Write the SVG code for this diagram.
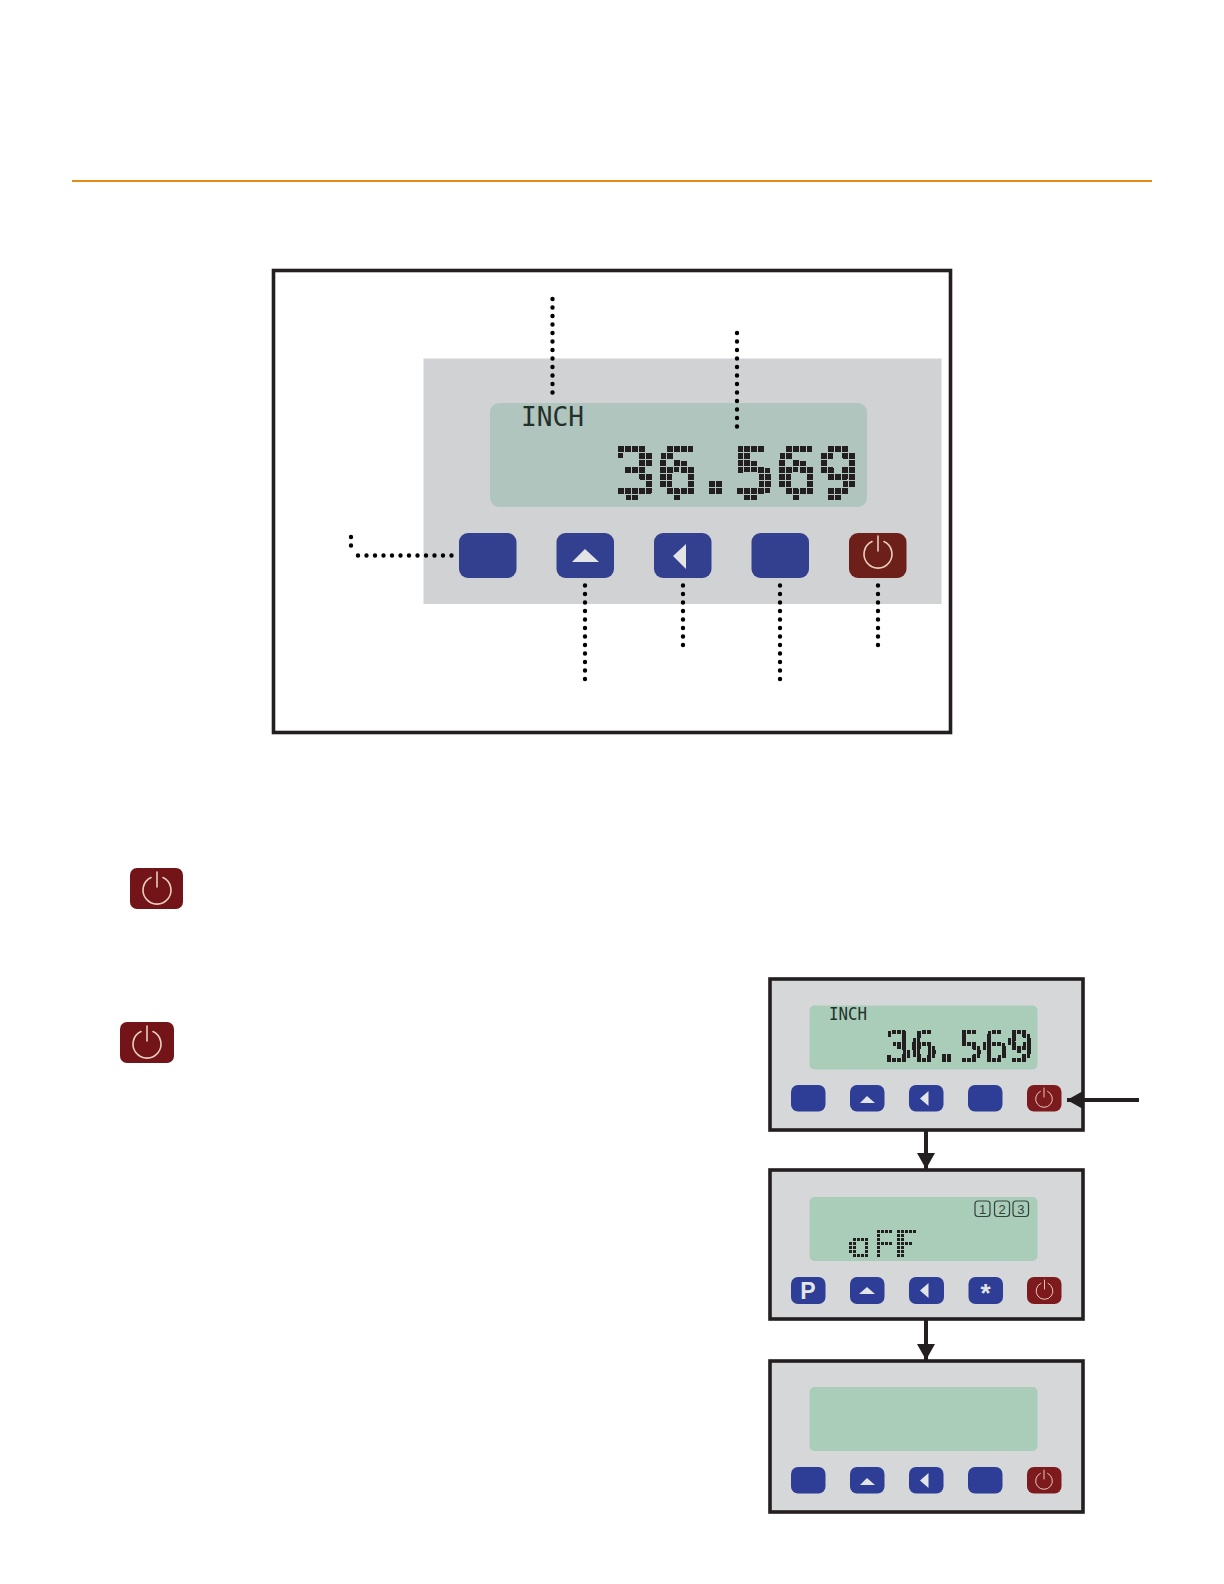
<svg xmlns="http://www.w3.org/2000/svg" width="1224" height="1584" viewBox="0 0 1224 1584">
<style>
.frame{fill:none;stroke:#231f20;stroke-width:3.6}
.sframe{fill:#d6d7d8;stroke:#231f20;stroke-width:3.6}
.panel{fill:#d0d2d3}
.lcd{fill:#b0c5bd}
.slcd{fill:#a9cdb9}
.blue{fill:#333f8f}
.sblue{fill:#2e3d96}
.red{fill:#6d1f1a}
.sred{fill:#7d1a1e}
.dred{fill:#721418}
.glyph{fill:#e3e4e6}
.pw{fill:none;stroke:#e8cfc0;stroke-width:1.6;stroke-linecap:round}
.dot{fill:none;stroke:#000;stroke-width:4.4;stroke-linecap:round;stroke-dasharray:0 8.5}
.arrow{fill:none;stroke:#231f20;stroke-width:4}
.mono{font-family:"DejaVu Sans Mono","Liberation Mono",monospace}
.sans{font-family:"Liberation Sans",Arial,sans-serif}
</style>
<defs>
<filter id="bigpx" filterUnits="userSpaceOnUse" primitiveUnits="userSpaceOnUse" x="605" y="436" width="270" height="70" color-interpolation-filters="sRGB">
<feFlood x="620" y="448" width="2" height="2" flood-color="#000" result="s"/>
<feComposite in="s" in2="s" operator="over" x="618" y="446" width="7" height="7" result="t"/>
<feTile in="t" result="g"/>
<feComposite in="SourceGraphic" in2="g" operator="in"/>
<feComponentTransfer><feFuncA type="discrete" tableValues="0 1"/></feComponentTransfer>
<feMorphology operator="dilate" radius="2"/>
</filter>
<filter id="smallpx" filterUnits="userSpaceOnUse" primitiveUnits="userSpaceOnUse" x="880" y="1025" width="160" height="42" color-interpolation-filters="sRGB">
<feFlood x="888" y="1031" width="2" height="2" flood-color="#000" result="s"/>
<feComposite in="s" in2="s" operator="over" x="887" y="1030" width="5" height="4" result="t"/>
<feTile in="t" result="g"/>
<feComposite in="SourceGraphic" in2="g" operator="in"/>
<feComponentTransfer><feFuncA type="discrete" tableValues="0 1"/></feComponentTransfer>
<feMorphology operator="dilate" radius="1 0.5"/>
</filter>
<filter id="offpx" filterUnits="userSpaceOnUse" primitiveUnits="userSpaceOnUse" x="845" y="1225" width="80" height="38" color-interpolation-filters="sRGB">
<feFlood x="850" y="1231" width="1" height="1" flood-color="#000" result="s"/>
<feComposite in="s" in2="s" operator="over" x="849" y="1230" width="4" height="4" result="t"/>
<feTile in="t" result="g"/>
<feComposite in="SourceGraphic" in2="g" operator="in"/>
<feComponentTransfer><feFuncA type="discrete" tableValues="0 1"/></feComponentTransfer>
<feMorphology operator="dilate" radius="1"/>
</filter>
<marker id="ah" markerUnits="userSpaceOnUse" markerWidth="18" markerHeight="18" refX="16" refY="9" orient="auto"><path d="M0 0L16 9L0 18Z" fill="#231f20"/></marker>
<symbol id="power" viewBox="-15 -15 30 30" overflow="visible"><path class="pw" d="M-6 -11.500A14 14 0 1 0 6 -11.500" transform="translate(0 2)"/><path class="pw" d="M0 -15V0"/></symbol>
</defs>
<line x1="72" y1="181" x2="1152" y2="181" stroke="#e58a12" stroke-width="1.800"/>
<g id="main-panel">
<rect class="frame" x="273.500" y="270.500" width="677" height="462"/>
<rect class="panel" x="423.500" y="358.500" width="518" height="245.500"/>
<rect class="lcd" x="490" y="403" width="377" height="104" rx="9"/>
<text class="mono" x="521" y="426" font-size="27" fill="#24302c" textLength="63" lengthAdjust="spacingAndGlyphs">INCH</text>
<text class="mono" y="496" font-size="68" fill="#231f20" stroke="#231f20" stroke-width="2" filter="url(#bigpx)"><tspan x="615 657">36</tspan><tspan x="695.500" dy="-3" stroke-width="5">.</tspan><tspan x="734 776 818" dy="3">569</tspan></text>
</g>
<g id="main-btn-p"><rect class="blue" x="459" y="533" width="57.500" height="45" rx="9"/></g>
<g id="main-btn-up"><rect class="blue" x="556.500" y="533" width="57.500" height="45" rx="9"/><path class="glyph" d="M572 562L585 549L599 562Z"/></g>
<g id="main-btn-left"><rect class="blue" x="654" y="533" width="57.500" height="45" rx="9"/><path class="glyph" d="M686 544V569L673 556Z"/></g>
<g id="main-btn-star"><rect class="blue" x="751.500" y="533" width="57.500" height="45" rx="9"/></g>
<g id="main-btn-power"><rect class="red" x="849" y="533" width="57.500" height="45" rx="9"/><use href="#power" x="863" y="536" width="30" height="30"/></g>
<g id="callout-lines">
<line class="dot" x1="552.500" y1="299" x2="552.500" y2="395"/>
<line class="dot" x1="737" y1="333" x2="737" y2="429"/>
<line class="dot" x1="451.500" y1="555.500" x2="355" y2="555.500"/>
<line class="dot" x1="351" y1="537" x2="351" y2="547"/>
<line class="dot" x1="585" y1="585.500" x2="585" y2="681"/>
<line class="dot" x1="683" y1="585.500" x2="683" y2="646"/>
<line class="dot" x1="780" y1="585.500" x2="780" y2="681"/>
<line class="dot" x1="878" y1="585.500" x2="878" y2="646"/>
</g>
<g id="power-icon-1"><rect class="dred" x="130" y="868" width="53" height="41" rx="7"/><use href="#power" x="142" y="872" width="30" height="30"/></g>
<g id="power-icon-2"><rect class="dred" x="120" y="1022" width="54" height="41" rx="7"/><use href="#power" x="132" y="1026" width="30" height="30"/></g>
<g id="state-1">
<rect class="sframe" x="770" y="979" width="313" height="151"/>
<rect class="slcd" x="809.500" y="1005.500" width="228" height="64" rx="5"/>
<text class="mono" x="829" y="1020" font-size="17" fill="#24302c" textLength="38" lengthAdjust="spacingAndGlyphs">INCH</text>
<text class="mono" y="1062" font-size="43" fill="#231f20" stroke="#231f20" stroke-width="1" filter="url(#smallpx)"><tspan x="886 911">36</tspan><tspan x="937.600" dy="-2" font-size="28" stroke-width="5">.</tspan><tspan x="957 982 1007" dy="2">569</tspan></text>
<rect class="sblue" x="791" y="1085" width="34.500" height="26.500" rx="7"/>
<rect class="sblue" x="850" y="1085" width="34.500" height="26.500" rx="7"/><path class="glyph" d="M860 1103L867 1096L875 1103Z"/>
<rect class="sblue" x="909" y="1085" width="34.500" height="26.500" rx="7"/><path class="glyph" d="M928.500 1091V1106L920 1098.500Z"/>
<rect class="sblue" x="968" y="1085" width="34.500" height="26.500" rx="7"/>
<rect class="sred" x="1027" y="1085" width="34.500" height="26.500" rx="7"/><use href="#power" x="1035" y="1088" width="18" height="18"/>
</g>
<g id="state-2">
<rect class="sframe" x="770" y="1170" width="313" height="149"/>
<rect class="slcd" x="809.500" y="1197" width="228" height="64" rx="5"/>
<g fill="none" stroke="#33423c" stroke-width="1.200"><rect x="975" y="1201" width="15" height="15.500" rx="3"/><rect x="994.500" y="1201" width="15" height="15.500" rx="3"/><rect x="1013" y="1201" width="15.500" height="15.500" rx="3"/></g>
<g class="sans" font-size="13" fill="#33423c" text-anchor="middle"><text x="982.500" y="1213.500">1</text><text x="1002" y="1213.500">2</text><text x="1020.800" y="1213.500">3</text></g>
<text class="mono" x="848 871 894" y="1258" font-size="38" fill="#231f20" stroke="#231f20" stroke-width="1.600" filter="url(#offpx)">oFF</text>
<rect class="sblue" x="791" y="1277" width="34.500" height="27" rx="7"/><text class="sans" x="808" y="1299" font-size="23" font-weight="700" fill="#e3e4e6" text-anchor="middle">P</text>
<rect class="sblue" x="850" y="1277" width="34.500" height="27" rx="7"/><path class="glyph" d="M859 1294L867 1287L875 1294Z"/>
<rect class="sblue" x="909" y="1277" width="35" height="27" rx="7"/><path class="glyph" d="M928.500 1283V1298L920 1290.500Z"/>
<rect class="sblue" x="968.500" y="1277" width="34.500" height="27" rx="7"/><text class="sans" x="985.500" y="1302" font-size="26" font-weight="700" fill="#e3e4e6" text-anchor="middle">*</text>
<rect class="sred" x="1027" y="1277" width="34.500" height="27" rx="7"/><use href="#power" x="1035.500" y="1280" width="18" height="18"/>
</g>
<g id="state-3">
<rect class="sframe" x="770" y="1361" width="313" height="151"/>
<rect class="slcd" x="809.500" y="1387" width="228" height="64" rx="5"/>
<rect class="sblue" x="791" y="1467" width="34.500" height="26.500" rx="7"/>
<rect class="sblue" x="850" y="1467" width="34.500" height="26.500" rx="7"/><path class="glyph" d="M860 1485L867 1478L875 1485Z"/>
<rect class="sblue" x="909" y="1467" width="34.500" height="26.500" rx="7"/><path class="glyph" d="M928.500 1473V1488L920 1480.500Z"/>
<rect class="sblue" x="968" y="1467" width="34.500" height="26.500" rx="7"/>
<rect class="sred" x="1027" y="1467" width="34.500" height="26.500" rx="7"/><use href="#power" x="1035" y="1470" width="18" height="18"/>
</g>
<g id="connectors">
<line class="arrow" x1="926" y1="1131" x2="926" y2="1169" marker-end="url(#ah)"/>
<line class="arrow" x1="926" y1="1320" x2="926" y2="1360" marker-end="url(#ah)"/>
<line class="arrow" x1="1139" y1="1100" x2="1067" y2="1100" marker-end="url(#ah)"/>
</g>
</svg>
